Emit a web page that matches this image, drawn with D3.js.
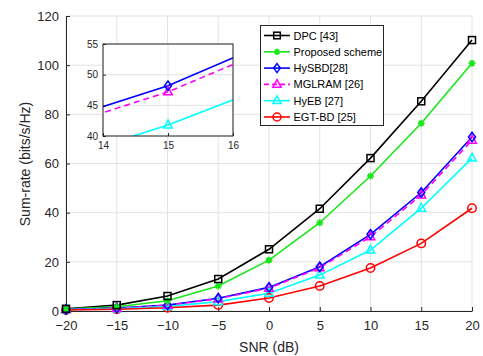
<!DOCTYPE html>
<html><head><meta charset="utf-8">
<script src="https://cdn.jsdelivr.net/npm/d3@7"></script>
<style>body{margin:0;background:#fff}svg{display:block;font-family:"Liberation Sans",Arial,sans-serif}</style>
</head><body><svg id="c" width="483" height="356"></svg>
<script>
const snr = [-20,-15,-10,-5,0,5,10,15,20];
const dpc     = [0.9,2.4,6.1,13.0,25.1,41.6,62.2,85.3,110.2];
const prop    = [0.8,1.7,4.2,10.2,20.7,35.9,54.9,76.4,100.8];
const hysbd   = [0.6,1.2,2.4,5.2,9.6,18.0,31.2,48.2,70.8];
const mglram  = [0.6,1.1,2.3,5.0,9.3,17.6,30.2,47.2,69.5];
const hyeb    = [0.5,0.9,1.8,3.8,7.2,14.6,24.8,41.8,62.2];
const egtbd   = [0.4,0.7,1.3,2.4,5.3,10.2,17.5,27.5,41.8];
const names   = ["DPC [43]","Proposed scheme","HySBD[28]","MGLRAM [26]","HyEB [27]","EGT-BD [25]"];
const colors  = ["#000000","#19e619","#0000ff","#ff00ff","#00ffff","#ff0000"];
const markers = ["square","star","diamond","triangle","triangle","circle"];
const dashes  = [null,null,null,"6,4",null,null];
const xTicks = [-20,-15,-10,-5,0,5,10,15,20];
const yTicks = [0,20,40,60,80,100,120];
const insetXTicks = [14,15,16];
const insetYTicks = [40,45,50,55];

const series = [dpc,prop,hysbd,mglram,hyeb,egtbd].map((v,i)=>({name:names[i],color:colors[i],marker:markers[i],dash:dashes[i],values:v.map((y,j)=>({x:snr[j],y}))}));

const svg = d3.select("#c");
const x = d3.scaleLinear().domain([-20,20]).range([66,472]);
const y = d3.scaleLinear().domain([0,120]).range([311,16]);
const axisCol = "#262626";

function drawMarker(g, type, cx, cy, color, s){
  s = s||3.5;
  if(type==="square") g.append("rect").attr("x",cx-s).attr("y",cy-s).attr("width",2*s).attr("height",2*s).attr("fill","none").attr("stroke",color).attr("stroke-width",1.5);
  else if(type==="circle") g.append("circle").attr("cx",cx).attr("cy",cy).attr("r",s+0.7).attr("fill","none").attr("stroke",color).attr("stroke-width",1.5);
  else if(type==="diamond") g.append("path").attr("d",`M${cx},${cy-s-1.2}L${cx+s},${cy}L${cx},${cy+s+1.2}L${cx-s},${cy}Z`).attr("fill","none").attr("stroke",color).attr("stroke-width",1.5);
  else if(type==="triangle") g.append("path").attr("d",`M${cx},${cy-s-1.5}L${cx+s+0.8},${cy+s-0.5}L${cx-s-0.8},${cy+s-0.5}Z`).attr("fill","none").attr("stroke",color).attr("stroke-width",1.5);
  else if(type==="star"){
    const p=[];
    for(let k=0;k<4;k++){const a=k*Math.PI/4;p.push(`M${cx-s*Math.cos(a)},${cy-s*Math.sin(a)}L${cx+s*Math.cos(a)},${cy+s*Math.sin(a)}`);}
    g.append("path").attr("d",p.join("")).attr("stroke",color).attr("stroke-width",1.6);
    g.append("circle").attr("cx",cx).attr("cy",cy).attr("r",2).attr("fill",color);
  }
}

// grid
const grid = svg.append("g");
xTicks.forEach(t=>grid.append("line").attr("x1",x(t)).attr("x2",x(t)).attr("y1",y(0)).attr("y2",y(120)).attr("stroke","#e3e3e3").attr("stroke-width",1));
yTicks.forEach(t=>grid.append("line").attr("x1",x(-20)).attr("x2",x(20)).attr("y1",y(t)).attr("y2",y(t)).attr("stroke","#e3e3e3").attr("stroke-width",1));

// axes
const xAxis = svg.append("g").attr("transform",`translate(0,${y(0)})`).call(d3.axisBottom(x).tickValues(xTicks).tickSizeInner(-4).tickSizeOuter(0).tickPadding(10));
const yAxis = svg.append("g").attr("transform",`translate(${x(-20)},0)`).call(d3.axisLeft(y).tickValues(yTicks).tickSizeInner(-4).tickSizeOuter(0).tickPadding(7));
[xAxis,yAxis].forEach(a=>{a.select(".domain").attr("stroke",axisCol).attr("stroke-width",1);a.selectAll(".tick line").attr("stroke",axisCol);a.selectAll("text").attr("fill",axisCol).style("font-size","13px").style("font-family","'Liberation Sans',Arial,sans-serif");});

svg.append("text").attr("x",269).attr("y",352).attr("text-anchor","middle").attr("fill",axisCol).style("font-size","14px").text("SNR (dB)");
svg.append("text").attr("transform","translate(30,164) rotate(-90)").attr("text-anchor","middle").attr("fill",axisCol).style("font-size","14px").text("Sum-rate (bits/s/Hz)");

// series
const line = d3.line().x(d=>x(d.x)).y(d=>y(d.y));
const sg = svg.append("g");
series.forEach(s=>{
  sg.append("path").datum(s.values).attr("d",line).attr("fill","none").attr("stroke",s.color).attr("stroke-width",1.6).attr("stroke-dasharray",s.dash);
});
series.slice().reverse().forEach(s=>{
  s.values.forEach(d=>drawMarker(sg,s.marker,x(d.x),y(d.y),s.color));
});

// legend
const lg = svg.append("g");
lg.append("rect").attr("x",260.5).attr("y",25.5).attr("width",123).attr("height",100).attr("fill","#fff").attr("stroke","#262626").attr("stroke-width",1);
series.forEach((s,i)=>{
  const ly = 35.5 + i*16.3;
  lg.append("line").attr("x1",264).attr("x2",290).attr("y1",ly).attr("y2",ly).attr("stroke",s.color).attr("stroke-width",1.6).attr("stroke-dasharray",s.dash?"5,3":null);
  drawMarker(lg,s.marker,277,ly,s.color,3.3);
  lg.append("text").attr("x",293.5).attr("y",ly+4).attr("fill","#000").style("font-size","11px").text(s.name);
});

// inset
const ix = d3.scaleLinear().domain([14,16]).range([103,233]);
const iy = d3.scaleLinear().domain([40,55]).range([136,44]);
const ig = svg.append("g");
ig.append("rect").attr("x",103).attr("y",44).attr("width",130).attr("height",92).attr("fill","#fff");
insetXTicks.forEach(t=>ig.append("line").attr("x1",ix(t)).attr("x2",ix(t)).attr("y1",iy(40)).attr("y2",iy(55)).attr("stroke","#e3e3e3"));
insetYTicks.forEach(t=>ig.append("line").attr("x1",ix(14)).attr("x2",ix(16)).attr("y1",iy(t)).attr("y2",iy(t)).attr("stroke","#e3e3e3"));
svg.append("clipPath").attr("id","ic").append("rect").attr("x",103).attr("y",44).attr("width",130).attr("height",92);
const icg = ig.append("g").attr("clip-path","url(#ic)");
const iline = d3.line().x(d=>ix(d.x)).y(d=>iy(d.y));
series.forEach(s=>{
  icg.append("path").datum(s.values).attr("d",iline).attr("fill","none").attr("stroke",s.color).attr("stroke-width",1.6).attr("stroke-dasharray",s.dash);
});
series.slice().reverse().forEach(s=>{
  s.values.filter(d=>d.x>=14&&d.x<=16).forEach(d=>drawMarker(icg,s.marker,ix(d.x),iy(d.y),s.color));
});
ig.append("rect").attr("x",103).attr("y",44).attr("width",130).attr("height",92).attr("fill","none").attr("stroke",axisCol).attr("stroke-width",1);
const ixa = ig.append("g").attr("transform","translate(0,136)").call(d3.axisBottom(ix).tickValues(insetXTicks).tickFormat(d3.format("d")).tickSizeInner(-3).tickSizeOuter(0).tickPadding(6));
const iya = ig.append("g").attr("transform","translate(103,0)").call(d3.axisLeft(iy).tickValues(insetYTicks).tickSizeInner(-3).tickSizeOuter(0).tickPadding(5));
[ixa,iya].forEach(a=>{a.select(".domain").remove();a.selectAll(".tick line").attr("stroke",axisCol);a.selectAll("text").attr("fill",axisCol).style("font-size","10px").style("font-family","'Liberation Sans',Arial,sans-serif");});
</script></body></html>
